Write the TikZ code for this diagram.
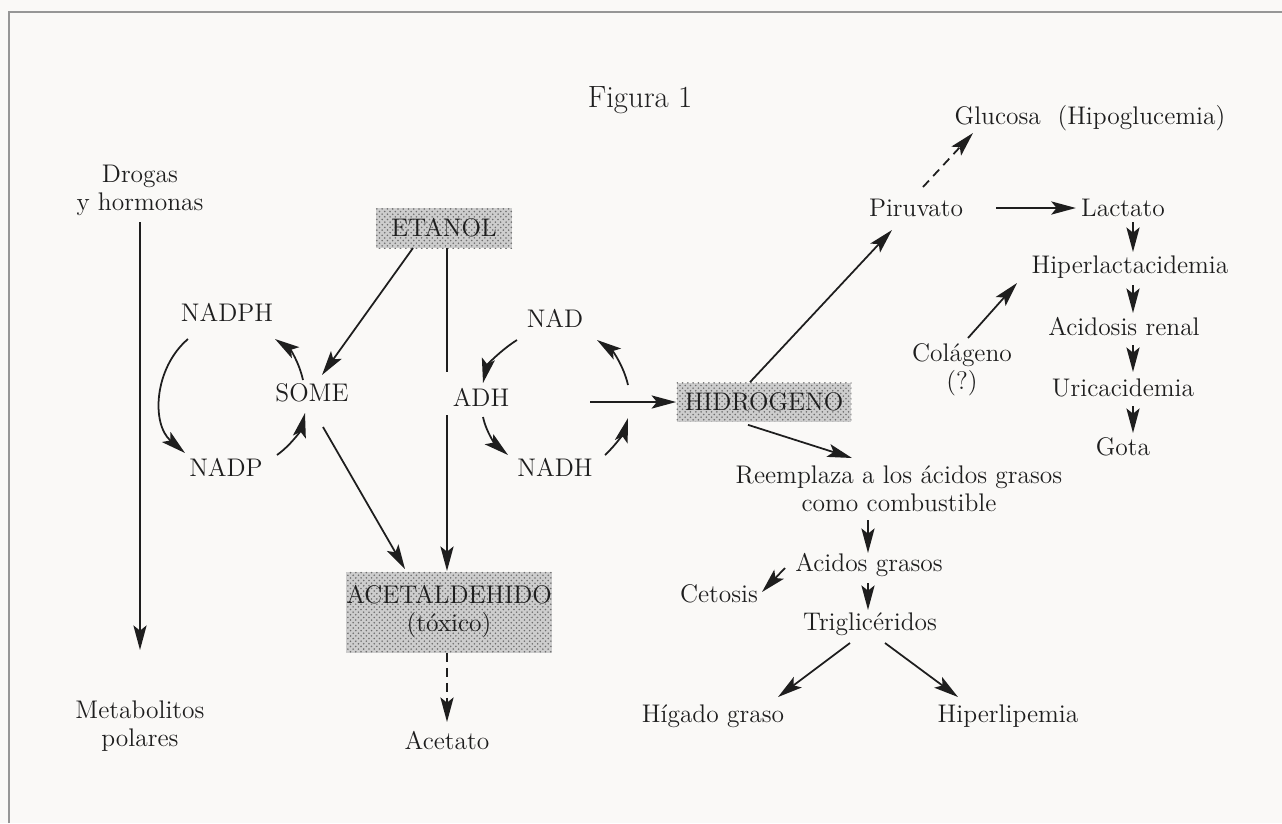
\documentclass[tikz,border=0pt]{standalone}
\usepackage{fontspec}
\usetikzlibrary{calc}
\usetikzlibrary{arrows.meta}
\usetikzlibrary{patterns}

\definecolor{r250g249g247}{rgb}{0.980392,0.976471,0.968627}
\definecolor{r205g205b205}{rgb}{0.803922,0.803922,0.803922}
\definecolor{r110g110b110}{rgb}{0.431373,0.431373,0.431373}
\definecolor{r150g150b150}{rgb}{0.588235,0.588235,0.588235}
\definecolor{r30g30b30}{rgb}{0.117647,0.117647,0.117647}

\tikzset{
  flecha/.style={-{Stealth[length=14pt,width=7.5pt,inset=3pt]},line width=1pt,draw=r30g30b30},
  flechapunt/.style={flecha,dash pattern=on 5pt off 3.5pt},
  caja/.style={preaction={fill=r205g205b205},pattern=crosshatch dots,pattern color=r110g110b110,inner sep=0pt,align=center},
  texto/.style={inner sep=0pt,align=center},
}

\begin{document}
\begin{tikzpicture}[x=0.02cm,y=-0.02cm,font=\fontsize{14.5}{16}\selectfont,text=r30g30b30]
                        \useasboundingbox (0,0) rectangle (1282,823);

                        % Background and frame
                        \fill[r250g249g247] (0,0) rectangle (1282,823);%
                        \draw[r150g150b150,line width=0.04cm] (9,823) -- (9,12) -- (1282,12);%

                        % Title
                        \node[texto,font=\fontsize{17.5}{20}\selectfont] (titulo) at (640,100) {Figura 1};%

                        % Left column
                        \node[texto] (drogas) at (140,190) {Drogas\\y hormonas};%
                        \node[texto] (metab) at (140,726) {Metabolitos\\polares};%

                        % Boxes
                        \node[caja,minimum width=2.74cm,minimum height=0.8cm] (etanol) at (444,228) {ETANOL};%
                        \node[caja,minimum width=3.5cm,minimum height=0.78cm] (hidro) at (764,402) {HIDROGENO};%
                        \node[caja,minimum width=4.12cm,minimum height=1.62cm] (acet) at (449,612) {ACETALDEHIDO\\(tóxico)};%

                        % Cycles
                        \node[texto] (nadph) at (227,312) {NADPH};%
                        \node[texto] (some) at (312,393) {SOME};%
                        \node[texto] (nadp) at (226,467) {NADP};%
                        \node[texto] (nad) at (555,318) {NAD};%
                        \node[texto] (adh) at (481,397) {ADH};%
                        \node[texto] (nadh) at (555,467) {NADH};%
                        \coordinate (corteA) at (447,372);%
                        \coordinate (corteB) at (447,415);%
                        \coordinate (cicloder) at (628,400);%
                        \coordinate (salida) at (590,402);%

                        \node[texto] (acetato) at (447,741) {Acetato};%

                        % Right part
                        \node[texto] (glucosa) at (1090,118) {Glucosa\ \ (Hipoglucemia)};%
                        \node[texto] (piruv) at (916,208) {Piruvato};%
                        \node[texto] (lactato) at (1123,208) {Lactato};%
                        \node[texto] (hiperlact) at (1130,267) {Hiperlactacidemia};%
                        \node[texto] (acidosis) at (1124,327) {Acidosis renal};%
                        \node[texto] (urica) at (1123,388) {Uricacidemia};%
                        \node[texto] (gota) at (1123,447) {Gota};%
                        \node[texto] (colag) at (962,370) {Colágeno\\(?)};%
                        \node[texto] (reempl) at (899,489) {Reemplaza a los ácidos grasos\\como combustible};%
                        \node[texto] (acgrasos) at (869,565) {Acidos grasos};%
                        \node[texto] (cetosis) at (719,594) {Cetosis};%
                        \node[texto] (trigl) at (870,624) {Triglicéridos};%
                        \node[texto] (higado) at (713,716) {Hígado graso};%
                        \node[texto] (hiperlip) at (1008,716) {Hiperlipemia};%

                        % Drawing arrow Drogas Metabolitos
                        \draw[flecha] ($(drogas)+(0,32)$) -- ($(metab)+(0,-76)$);%

                        % Drawing arrows out of ETANOL
                        \draw[flecha] ($(etanol)+(-31,20)$) -- ($(some)+(10,-18)$);%
                        \draw[line width=1pt,r30g30b30] ($(etanol)+(3,20)$) -- (corteA);%
                        \draw[flecha] (corteB) -- ($(acet)+(-2,-41)$);%
                        \draw[flecha] ($(some)+(11,34)$) -- ($(acet)+(-44,-43)$);%
                        \draw[flechapunt] ($(acet)+(-2,41)$) -- ($(acetato)+(0,-19)$);%

                        % Drawing cycle NADPH NADP
                        \draw[flecha] ($(nadph)+(-39,27)$) .. controls +(-34,29) and +(-34,-29) .. ($(nadp)+(-41,-14)$);%
                        \draw[flecha] ($(nadp)+(51,-12)$) .. controls +(14,-10) and +(-4,17) .. ($(some)+(-7,20)$);%
                        \draw[flecha] ($(some)+(-9,-13)$) .. controls +(-4,-18) and +(15,10) .. ($(nadph)+(48,27)$);%

                        % Drawing cycle NAD NADH
                        \draw[flecha] ($(nad)+(-38,22)$) .. controls +(-16,10) and +(4,-18) .. ($(adh)+(2,-14)$);%
                        \draw[flecha] ($(adh)+(2,20)$) .. controls +(3,15) and +(-12,-10) .. ($(nadh)+(-47,-12)$);%
                        \draw[flecha] ($(nadh)+(50,-12)$) .. controls +(11,-10) and +(-4,14) .. ($(cicloder)+(0,18)$);%
                        \draw[flecha] ($(cicloder)+(0,-15)$) .. controls +(-4,-18) and +(16,11) .. ($(nad)+(42,22)$);%
                        \draw[flecha] (salida) -- (hidro.west);%

                        % Drawing arrows out of HIDROGENO
                        \draw[flecha] ($(hidro.north)+(-14,0)$) -- ($(piruv)+(-24,22)$);%
                        \draw[flecha] ($(hidro.south)+(-16,3)$) -- ($(reempl)+(-47,-31)$);%

                        % Drawing Piruvato branch
                        \draw[flechapunt] ($(piruv)+(7,-21)$) -- ($(glucosa)+(-117,15)$);%
                        \draw[flecha] ($(piruv.east)+(33,0)$) -- ($(lactato.west)+(-5,0)$);%
                        \draw[flecha] ($(lactato)+(10,14)$) -- ($(hiperlact)+(3,-15)$);%
                        \draw[flecha] ($(hiperlact)+(3,18)$) -- ($(acidosis)+(9,-14)$);%
                        \draw[flecha] ($(acidosis)+(9,18)$) -- ($(urica)+(10,-16)$);%
                        \draw[flecha] ($(urica)+(10,18)$) -- ($(gota)+(10,-14)$);%
                        \draw[flecha] ($(colag)+(6,-32)$) -- ($(hiperlact)+(-113,16)$);%

                        % Drawing fatty acid branch
                        \draw[flecha] ($(reempl)+(-31,31)$) -- ($(acgrasos)+(-1,-12)$);%
                        \draw[flecha] ($(acgrasos)+(-84,3)$) -- ($(cetosis)+(43,-2)$);%
                        \draw[flecha] ($(acgrasos)+(-1,18)$) -- ($(trigl)+(-2,-14)$);%
                        \draw[flecha] ($(trigl)+(-20,19)$) -- ($(higado)+(65,-19)$);%
                        \draw[flecha] ($(trigl)+(15,19)$) -- ($(hiperlip)+(-50,-19)$);%
                    \end{tikzpicture}
\end{document}
